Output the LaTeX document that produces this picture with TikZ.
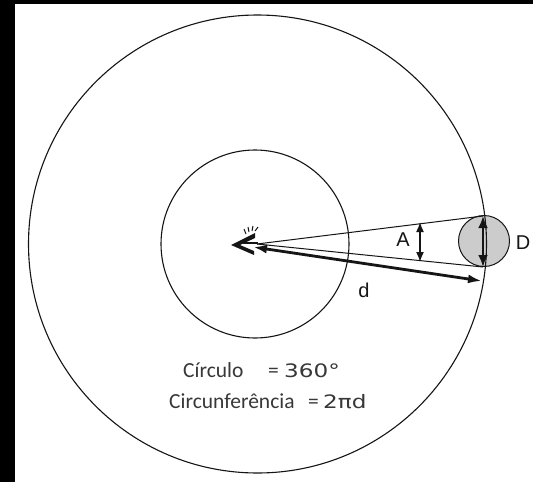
\documentclass[tikz,border=0pt]{standalone}
\usepackage{fontspec}
\setmainfont{Carlito}
\newfontfamily\numfont[FakeStretch=1.25]{DejaVu Sans}
\newfontfamily\lblfont{Liberation Sans}
\usetikzlibrary{arrows.meta}
\definecolor{txt}{HTML}{383838}
\definecolor{ink}{HTML}{151515}
\tikzset{
  ring/.style={draw=ink, line width=1.1pt},
  ray/.style={draw=ink, line width=1pt},
  dbl/.style={draw=ink},
  lbl/.style={inner sep=0pt, text=ink, font=\lblfont\fontsize{20}{20}\selectfont},
  word/.style={inner sep=0pt, anchor=base west, text=txt, font=\fontsize{21.5}{22}\selectfont},
  num/.style={inner sep=0pt, anchor=base west, text=txt, font=\numfont\fontsize{18.5}{19}\selectfont},
}
\begin{document}
\begin{tikzpicture}[x=1pt, y=-1pt]
\fill[black] (0,0) rectangle (533,482);
\fill[white] (15,4) rectangle (533,482);
\useasboundingbox (0,0) rectangle (533,482);
% body circle D
\node[circle, minimum size=51pt, inner sep=0pt, fill=gray!40, draw=ink, line width=1pt] (body) at (484,241) {};
% circles
\node[circle, ring, minimum size=458pt, inner sep=0pt] (outer) at (257.5,244) {};
\node[circle, ring, minimum size=188pt, inner sep=0pt] (inner) at (255,244) {};
% coordinates
\coordinate (v) at (257,244);
\coordinate (vd) at (253,247);
\coordinate (ut) at (483,216);
\coordinate (lt) at (483,267);
\coordinate (at) at (420,222);
\coordinate (ab) at (420,262);
\coordinate (de) at (482,281);
% wedge
\draw[ray] (v) -- (ut);
\draw[ray] (v) -- (lt);
% arrows
\draw[dbl, line width=2.8pt, {Latex[length=12pt,width=10pt]}-{Latex[length=12pt,width=10pt]}] (ut) -- (lt);
\draw[dbl, line width=1.6pt, {Latex[length=10pt,width=8pt]}-{Latex[length=10pt,width=8pt]}] (at) -- (ab);
\draw[dbl, line width=2.8pt, {Latex[length=14pt,width=9pt]}-{Latex[length=14pt,width=9pt]}] (vd) -- (de);
% eye
\fill[ink] (255,233) -- (231,245) -- (254,255) -- (254,251) -- (240,245) -- (255,238) -- cycle;
\draw[ink, line width=2.4pt] (243,243) -- (258,243);
\draw[ink, line width=1pt] (246,234) -- (244,229) (249,232) -- (248,227) (252,231) -- (253,226) (255,231) -- (258,227);
% labels
\node[lbl] (la) at (403,240) {A};
\node[lbl] (ld) at (523,243) {D};
\node[lbl] (ldd) at (364,290) {d};
% texts
\node[word] (c1) at (183,377) {Círculo};
\node[word] (e1) at (268,377) {=};
\node[num] (n1) at (284,377) {360°};
\node[word] (c2) at (169,408) {Circunferência};
\node[word] (e2) at (308,408) {=};
\node[num] (n2) at (323,408) {2πd};
\end{tikzpicture}
\end{document}
